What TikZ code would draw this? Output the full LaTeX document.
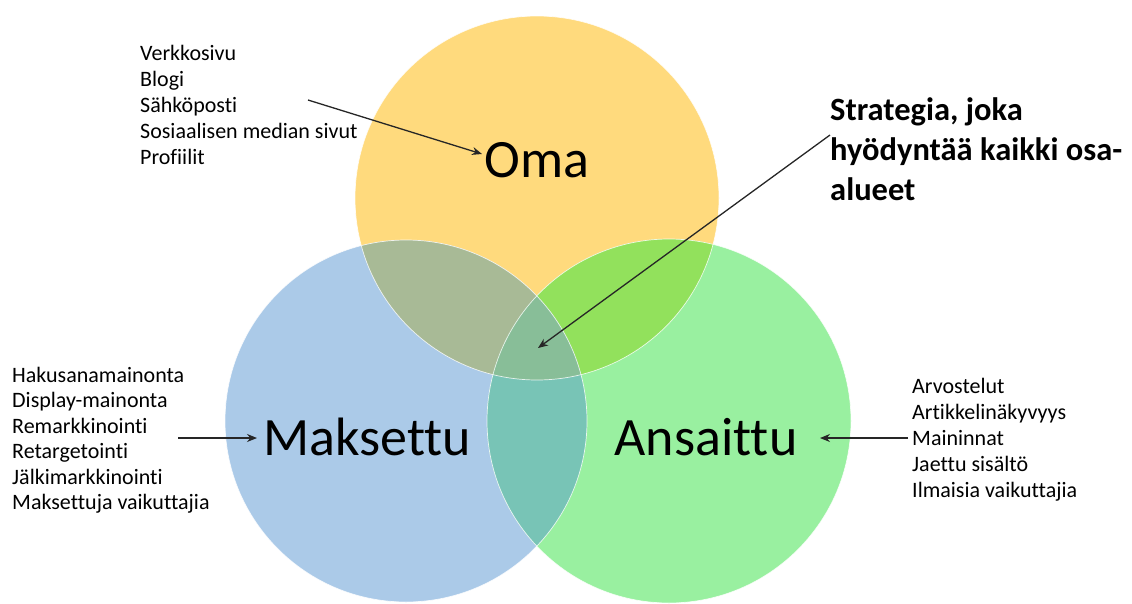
\documentclass[tikz,border=0pt]{standalone}
\usepackage{fontspec}
\setmainfont{Carlito}[Ligatures=NoCommon]
\usetikzlibrary{arrows.meta}
\definecolor{cyel}{RGB}{255,218,125}
\definecolor{cblu}{RGB}{171,202,232}
\definecolor{cgrn}{RGB}{153,240,160}
\definecolor{cyb}{RGB}{168,186,150}
\definecolor{cyg}{RGB}{146,225,92}
\definecolor{cbg}{RGB}{120,196,182}
\definecolor{cybg}{RGB}{136,190,152}
\tikzset{
  listtxt/.style={anchor=base west, inner sep=0pt, font=\fontsize{22}{26}\selectfont, text=black},
  bigtxt/.style={anchor=base, inner sep=0pt, font=\fontsize{54}{60}\selectfont, text=black},
  strtxt/.style={anchor=base west, inner sep=0pt, font=\bfseries\fontsize{32.5}{40}\selectfont, text=black},
  pointer/.style={-{Stealth[length=10pt,width=8pt]}, line width=1.3pt, draw=black!85}
}
\begin{document}
\begin{tikzpicture}[x=1pt,y=-1pt]
\useasboundingbox (0,0) rectangle (1132,603);
% circles
\def\Yc{(537,198) circle[radius=182]}
\def\Bc{(406,421) circle[radius=181]}
\def\Gc{(669,421) circle[radius=182]}
\fill[cyel] \Yc;
\fill[cblu] \Bc;
\fill[cgrn] \Gc;
\begin{scope}\clip \Yc; \fill[cyb] \Bc; \end{scope}
\begin{scope}\clip \Yc; \fill[cyg] \Gc; \end{scope}
\begin{scope}\clip \Bc; \fill[cbg] \Gc; \end{scope}
\begin{scope}\clip \Yc; \clip \Bc; \fill[cybg] \Gc; \end{scope}
\draw[white, line width=0.7pt, opacity=0.8] \Yc \Bc \Gc;
% big labels
\node[bigtxt] (oma) at (537,177) {Oma};
\node[bigtxt] (maks) at (367,455) {Maksettu};
\node[bigtxt] (ans) at (706,455) {Ansaittu};
% lists
\foreach \t [count=\i] in {Verkkosivu, Blogi, Sähköposti, Sosiaalisen median sivut, Profiilit}
  \node[listtxt] (own\i) at (140,{60+26.2*(\i-1)}) {\t};
\foreach \t [count=\i] in {Hakusanamainonta, Display-mainonta, Remarkkinointi, Retargetointi, Jälkimarkkinointi, Maksettuja vaikuttajia}
  \node[listtxt] (paid\i) at (12,{382+25.5*(\i-1)}) {\t};
\foreach \t [count=\i] in {Arvostelut, Artikkelinäkyvyys, Maininnat, Jaettu sisältö, Ilmaisia vaikuttajia}
  \node[listtxt] (earn\i) at (912,{393+26.2*(\i-1)}) {\t};
% strategy text
\node[strtxt] (str1) at (830,120) {Strategia, joka};
\node[strtxt] (str2) at (830,160) {hyödyntää kaikki osa-};
\node[strtxt] (str3) at (830,200) {alueet};
% arrows
\coordinate (omaS) at (308,100);
\coordinate (omaE) at (482,154);
\coordinate (maksS) at (178,438);
\coordinate (maksE) at (257,438);
\coordinate (ansS) at (908,438);
\coordinate (ansE) at (820,438);
\coordinate (strS) at (830,135);
\coordinate (center) at (538,348);
\draw[pointer] (omaS) -- (omaE);
\draw[pointer] (maksS) -- (maksE);
\draw[pointer] (ansS) -- (ansE);
\draw[pointer] (strS) -- (center);
\end{tikzpicture}
\end{document}
